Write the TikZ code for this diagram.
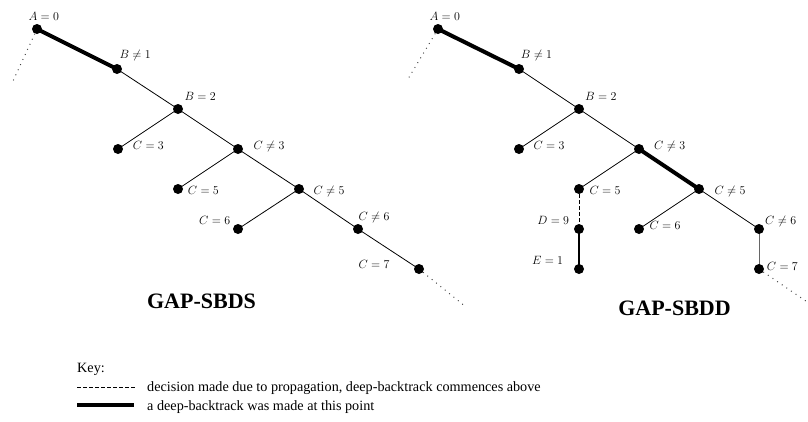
\documentclass[tikz,border=0pt]{standalone}
\usepackage{fontspec}
\setmainfont{Liberation Serif}
\pgfdeclarelayer{bg}
\pgfsetlayers{bg,main}
\begin{document}
\begin{tikzpicture}[x=1pt,y=-1pt,
  dot/.style={circle,fill=black,inner sep=0pt,minimum size=10pt},
  lbl/.style={inner sep=0pt,anchor=base west,font=\fontsize{13}{16}\selectfont},
  edge/.style={line width=0.8pt},
  thickedge/.style={line width=4pt},
  grayedge/.style={line width=1pt,black!60},
  propedge/.style={line width=0.9pt,dash pattern=on 3.5pt off 2.5pt},
  dotline/.style={line width=1pt,black!75,dash pattern=on 0.9pt off 4.7pt},
  title/.style={inner sep=0pt,anchor=base,font=\fontsize{22}{26}\selectfont\bfseries},
  keytext/.style={inner sep=0pt,anchor=base west,font=\fontsize{14.2}{17}\selectfont}]
\useasboundingbox (0,0) rectangle (808,421);
\begin{scope}
\clip (0,0) rectangle (808,421);

% ---------- left tree (GAP-SBDS) ----------
\node[dot] (la)  at (37,29) {};
\node[dot] (lb1) at (117,69) {};
\node[dot] (lb2) at (178,109) {};
\node[dot] (lc3) at (118,149) {};
\node[dot] (lcn3) at (238,149) {};
\node[dot] (lc5) at (178,189) {};
\node[dot] (lcn5) at (299,189) {};
\node[dot] (lc6) at (238,229) {};
\node[dot] (lcn6) at (358,229) {};
\node[dot] (lc7) at (419,269) {};
\coordinate (lda) at (13,81);
\coordinate (ldc) at (466,307);

\node[lbl] (tla)  at (28.3,20) {$A=0$};
\node[lbl] (tlb1) at (119.3,58.3) {$B\neq1$};
\node[lbl] (tlb2) at (184.3,100) {$B=2$};
\node[lbl] (tlc3) at (132.7,149.3) {$C=3$};
\node[lbl] (tlcn3) at (253.3,149.3) {$C\neq3$};
\node[lbl] (tlc5) at (187.7,194) {$C=5$};
\node[lbl] (tlcn5) at (313.3,194) {$C\neq5$};
\node[lbl] (tlc6) at (199,224.3) {$C=6$};
\node[lbl] (tlcn6) at (358.3,220) {$C\neq6$};
\node[lbl] (tlc7) at (358.3,268.7) {$C=7$};

\begin{pgfonlayer}{bg}
\draw[thickedge] (la.center) -- (lb1.center);
\draw[edge] (lb1.center) -- (lb2.center);
\draw[edge] (lb2.center) -- (lc3.center);
\draw[edge] (lb2.center) -- (lcn3.center);
\draw[edge] (lcn3.center) -- (lc5.center);
\draw[edge] (lcn3.center) -- (lcn5.center);
\draw[edge] (lcn5.center) -- (lc6.center);
\draw[edge] (lcn5.center) -- (lcn6.center);
\draw[edge] (lcn6.center) -- (lc7.center);
\draw[dotline] (la) -- (lda);
\draw[dotline] (lc7) -- (ldc);
\end{pgfonlayer}

\node[title] (t1) at (201.5,308.7) {GAP-SBDS};

% ---------- right tree (GAP-SBDD) ----------
\node[dot] (ra)  at (438,29) {};
\node[dot] (rb1) at (519,69) {};
\node[dot] (rb2) at (579,109) {};
\node[dot] (rc3) at (519,149) {};
\node[dot] (rcn3) at (639,149) {};
\node[dot] (rc5) at (579,189) {};
\node[dot] (rcn5) at (699,189) {};
\node[dot] (rd9) at (579,229) {};
\node[dot] (re1) at (579,269) {};
\node[dot] (rc6) at (639,229) {};
\node[dot] (rcn6) at (759,229) {};
\node[dot] (rc7) at (759,269) {};
\coordinate (rda) at (408,79);
\coordinate (rdc) at (832,319);

\node[lbl] (tra)  at (429.3,20) {$A=0$};
\node[lbl] (trb1) at (520.7,58.3) {$B\neq1$};
\node[lbl] (trb2) at (585,100) {$B=2$};
\node[lbl] (trc3) at (533.3,149.3) {$C=3$};
\node[lbl] (trcn3) at (654,149.3) {$C\neq3$};
\node[lbl] (trc5) at (589.3,194.3) {$C=5$};
\node[lbl] (trcn5) at (714.3,194.3) {$C\neq5$};
\node[lbl,anchor=base east] (trd9) at (569.3,224.3) {$D=9$};
\node[lbl,anchor=base east] (tre1) at (563.3,264.3) {$E=1$};
\node[lbl] (trc6) at (649.3,229.3) {$C=6$};
\node[lbl] (trcn6) at (765,224.3) {$C\neq6$};
\node[lbl] (trc7) at (766.7,270) {$C=7$};

\begin{pgfonlayer}{bg}
\draw[thickedge] (ra.center) -- (rb1.center);
\draw[edge] (rb1.center) -- (rb2.center);
\draw[edge] (rb2.center) -- (rc3.center);
\draw[edge] (rb2.center) -- (rcn3.center);
\draw[edge] (rcn3.center) -- (rc5.center);
\draw[thickedge] (rcn3.center) -- (rcn5.center);
\draw[propedge] (rc5) -- (rd9);
\draw[line width=1.2pt] (rd9.center) -- (re1.center);
\draw[edge] (rcn5.center) -- (rc6.center);
\draw[edge] (rcn5.center) -- (rcn6.center);
\draw[grayedge] (rcn6.center) -- (rc7.center);
\draw[dotline] (ra) -- (rda);
\draw[dotline] (rc7) -- (rdc);
\end{pgfonlayer}

\node[title] (t2) at (674.5,315) {GAP-SBDD};
\end{scope}

% ---------- key ----------
\node[keytext] (key) at (77,372) {Key:};
\coordinate (k1a) at (77,387);
\coordinate (k1b) at (136,387);
\coordinate (k2a) at (77,405);
\coordinate (k2b) at (134,405);
\draw[line width=0.8pt,dash pattern=on 4pt off 2pt] (k1a) -- (k1b);
\draw[thickedge] (k2a) -- (k2b);
\node[keytext] (kt1) at (147,391) {decision made due to propagation, deep-backtrack commences above};
\node[keytext] (kt2) at (147,410) {a deep-backtrack was made at this point};
\end{tikzpicture}
\end{document}
